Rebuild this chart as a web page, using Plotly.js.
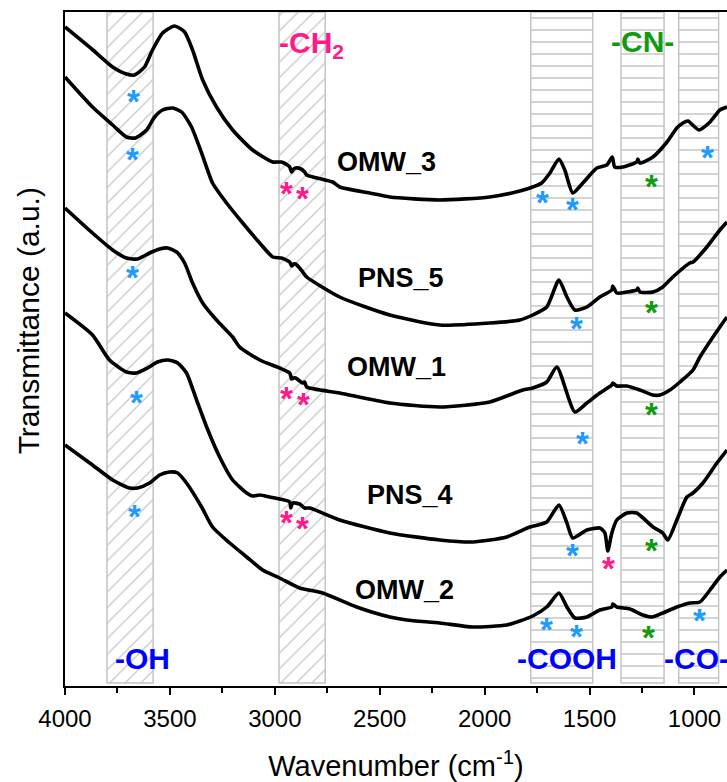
<!DOCTYPE html>
<html>
<head>
<meta charset="utf-8">
<script src="https://cdn.plot.ly/plotly-3.0.1.min.js"></script>
<style>html,body{margin:0;padding:0;background:#fff;}#chart{width:727px;height:782px;}</style>
</head>
<body>
<div id="chart"></div>
<script>
// ---- data (wavenumber in cm-1, transmittance in arbitrary units) ----
const seriesNames = ['OMW_3', 'PNS_5', 'OMW_1', 'PNS_4', 'OMW_2'];

const omw3_x = [4000,3867,3773,3707,3669,3621,3583,3535,3478,3430,3392,3344,3278,3201,3106,3010,2968,2940,2929,2920,2910,2901,2875,2858,2848,2724,2691,2548,2452,2214,1976,1832,1771,1728,1689,1646,1618,1580,1532,1465,1418,1392,1380,1341,1275,1270,1260,1198,1131,1084,1055,1031,979,926,879,845];
const omw3_y = [659,636,619,612,611,619,636,653,660,654,636,606,579,556,536,524,524,521,519,514,517,518,517,514,511,504,499,493,489,486,489,495,499,503,513,527,516,493,503,518,521,529,519,519,524,527,523,529,544,558,563,565,556,564,576,579];

const pns5_x = [4000,3869,3773,3707,3664,3611,3573,3535,3487,3444,3397,3349,3297,3230,3153,3072,3010,2968,2929,2920,2910,2901,2882,2867,2848,2691,2452,2214,1976,1832,1771,1704,1646,1608,1570,1513,1451,1394,1389,1370,1322,1275,1270,1260,1198,1151,1103,1022,1007,941,879,845];
const pns5_y = [609,579,561,549,548,556,569,576,578,574,559,533,503,483,463,443,429,428,424,420,422,422,418,414,409,389,371,361,363,366,371,379,406,389,376,379,389,396,400,393,394,396,398,394,394,399,409,423,424,439,456,464];

const omw1_x = [4000,3869,3773,3707,3654,3597,3549,3511,3468,3430,3392,3344,3278,3201,3168,3072,2977,2929,2920,2910,2901,2867,2858,2848,2691,2452,2214,1976,1818,1771,1704,1656,1570,1513,1451,1394,1389,1370,1322,1260,1198,1165,1117,1069,1007,974,879,845];
const omw1_y = [478,453,436,428,427,433,437,438,434,423,403,383,366,349,339,326,318,313,307,308,308,303,304,299,293,283,279,284,296,298,304,319,274,283,293,301,303,300,300,296,291,291,296,304,316,329,359,369];

const pns4_x = [4000,3869,3788,3707,3659,3607,3559,3511,3463,3421,3373,3325,3263,3201,3134,3106,3072,3025,2977,2929,2924,2915,2882,2858,2834,2691,2452,2214,2057,1895,1785,1704,1646,1608,1580,1513,1451,1427,1413,1394,1370,1322,1275,1198,1151,1127,1084,1036,1007,960,893,845];
const pns4_y = [373,351,326,314,313,318,324,326,323,313,286,259,229,206,193,190,191,189,187,184,178,183,182,178,178,166,153,146,144,149,159,164,181,163,148,156,158,153,135,153,166,173,173,159,153,146,166,189,193,203,223,236];

const omw2_x = [4000,3869,3773,3692,3654,3597,3549,3502,3463,3421,3349,3297,3215,3134,3058,2977,2882,2772,2610,2452,2371,2214,2057,1895,1832,1771,1704,1646,1608,1570,1513,1451,1394,1389,1370,1308,1246,1203,1151,1084,1022,974,926,879,845];
const omw2_y = [241,221,206,198,198,203,211,214,213,203,179,159,143,129,116,108,98,93,79,69,66,63,59,61,65,70,79,93,79,68,69,76,79,82,79,77,71,69,73,79,83,84,96,109,116];

// series label positions (wavenumber, transmittance)
const labelX = [2467, 2398, 2421, 2355, 2381];
const labelY = [524, 408, 319, 191, 96];

// shaded functional-group bands
const regionStart = [3800, 2980, 1780, 1350, 1075];
const regionEnd   = [3580, 2760, 1485, 1145, 885];
const regionPattern = ['/', '/', '-', '-', '-'];

// functional group labels
const groupText  = ['-OH', '-CH<sub>2</sub>', '-COOH', '-CN-', '-CO-'];
const groupX     = [3633, 2991, 1608, 1246, 1155];
const groupY     = [28, 642, 28, 645, 28];
const groupColor = ['#0000FF', '#FF1A8C', '#0000FF', '#109A10', '#0000FF'];
const groupAnchor = ['center', 'left', 'center', 'center', 'left'];

// asterisk markers
const starX = [3673,3678,3678,3659,3669,1723,1580,936,1561,1532,1580,1704,1561,974, 2944,2867,2944,2863,2944,2867,1408, 1203,1203,1203,1203,1217];
const starY = [590,532,414,289,175,489,482,534,363,248,136,62,55,71, 498,493,293,287,169,163,123, 505,379,277,141,54];
const starColor = ['#1E9BFF','#1E9BFF','#1E9BFF','#1E9BFF','#1E9BFF','#1E9BFF','#1E9BFF','#1E9BFF','#1E9BFF','#1E9BFF','#1E9BFF','#1E9BFF','#1E9BFF','#1E9BFF',
                   '#FF1A8C','#FF1A8C','#FF1A8C','#FF1A8C','#FF1A8C','#FF1A8C','#FF1A8C',
                   '#109A10','#109A10','#109A10','#109A10','#109A10'];

// ---- build figure ----
const FONT = 'Arial, "Liberation Sans", sans-serif';
const Y_TOP = 674, Y_BASE = 3;
const traces = [];

regionStart.forEach((s, i) => {
  const e = regionEnd[i];
  traces.push({
    type: 'bar', x: [(s + e) / 2], y: [Y_TOP - Y_BASE], base: [Y_BASE], width: [s - e],
    marker: {
      color: 'white',
      line: {color: '#c4c4c4', width: 1.5},
      pattern: {shape: regionPattern[i], fgcolor: '#c8c8c8', bgcolor: 'white',
                size: regionPattern[i] === '/' ? 11 : 12, solidity: regionPattern[i] === '/' ? 0.12 : 0.13}
    },
    hoverinfo: 'skip', showlegend: false
  });
});

const xs = [omw3_x, pns5_x, omw1_x, pns4_x, omw2_x];
const ys = [omw3_y, pns5_y, omw1_y, pns4_y, omw2_y];
seriesNames.forEach((n, i) => {
  traces.push({
    type: 'scatter', mode: 'lines', name: n, x: xs[i], y: ys[i],
    line: {color: 'black', width: 3.6, shape: 'spline', smoothing: 0.6},
    hoverinfo: 'skip', showlegend: false, cliponaxis: true
  });
});

const annotations = [];
seriesNames.forEach((n, i) => {
  annotations.push({x: labelX[i], y: labelY[i], text: '<b>' + n + '</b>', showarrow: false,
    font: {family: FONT, size: 27, color: 'black'}, xanchor: 'center', yanchor: 'middle'});
});
groupText.forEach((t, i) => {
  annotations.push({x: groupX[i], y: groupY[i], text: '<b>' + t + '</b>', showarrow: false,
    font: {family: FONT, size: 30, color: groupColor[i]}, xanchor: groupAnchor[i], yanchor: 'middle'});
});
starX.forEach((sx, i) => {
  annotations.push({x: sx, y: starY[i], text: '<b>*</b>', showarrow: false,
    font: {family: FONT, size: 33, color: starColor[i]}, xanchor: 'center', yanchor: 'middle', yshift: -5});
});
annotations.push({xref: 'paper', yref: 'paper', x: 0, y: 0.541, xshift: -37, text: 'Transmittance (a.u.)',
  textangle: -90, showarrow: false, font: {family: FONT, size: 30, color: 'black'}, xanchor: 'center', yanchor: 'middle'});

const layout = {
  width: 727, height: 782,
  margin: {l: 65, r: 0, t: 12, b: 96, pad: 0},
  paper_bgcolor: 'white', plot_bgcolor: 'white',
  barmode: 'overlay', showlegend: false,
  font: {family: FONT, color: 'black'},
  xaxis: {
    range: [4000, 845], tick0: 4000, dtick: 500, ticks: 'outside', ticklen: 7, tickwidth: 2, tickcolor: 'black',
    minor: {dtick: 250, ticks: 'outside', ticklen: 5, tickwidth: 2, tickcolor: 'black', showgrid: false},
    showline: true, linewidth: 2, linecolor: 'black', mirror: true, showgrid: false, zeroline: false,
    tickfont: {family: FONT, size: 24, color: 'black'}, ticklabelstandoff: 3,
    title: {text: 'Wavenumber (cm<sup>-1</sup>)', font: {family: FONT, size: 29, color: 'black'}, standoff: 32},
    automargin: false
  },
  yaxis: {
    range: [0, 674], showticklabels: false, ticks: '', showline: true, linewidth: 2, linecolor: 'black',
    showgrid: false, zeroline: false, automargin: false
  },
  annotations: annotations
};

Plotly.newPlot('chart', traces, layout, {staticPlot: true, displayModeBar: false});
</script>
</body>
</html>
